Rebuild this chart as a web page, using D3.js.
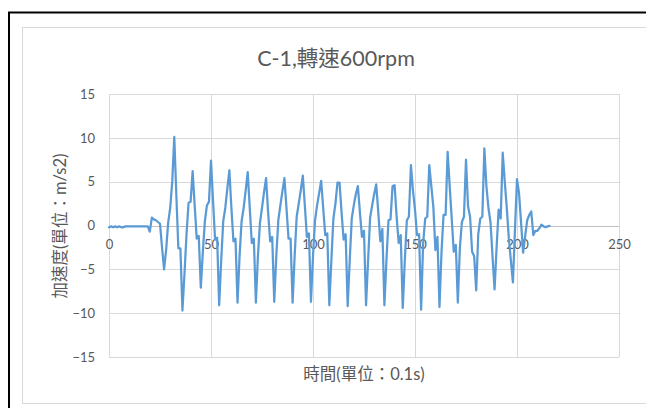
<!DOCTYPE html>
<html>
<head>
<meta charset="utf-8">
<script src="https://cdn.jsdelivr.net/npm/d3@7/dist/d3.min.js"></script>
<style>
  html, body { margin: 0; padding: 0; background: #fff; }
  svg { display: block; }
  text { font-family: Lato, "Noto Sans CJK TC", sans-serif; fill: #595959; }
</style>
</head>
<body>
<svg id="chart" width="646" height="408"></svg>
<script>
// ---- data ----
const chartTitle = "C-1,轉速600rpm";
const xAxisTitle = "時間(單位：0.1s)";
const yAxisTitle = "加速度(單位：m/s2)";
const xTicks = [0, 50, 100, 150, 200, 250];
const yTicks = [-15, -10, -5, 0, 5, 10, 15];
// acceleration samples, one per 0.1 s, index 0..216
const accel = [
  -0.2, -0.1, -0.2, -0.1, -0.2, -0.1, -0.2, -0.2, -0.1, -0.1,
  -0.1, -0.1, -0.1, -0.1, -0.1, -0.1, -0.1, -0.1, -0.1, -0.1,
  -0.7, 0.9, 0.7, 0.6, 0.4, 0.2, -2.5, -5.0, -2.8, 0.3,
  2.0, 5.0, 10.1, 3.5, -2.6, -2.6, -9.7, -5.5, -1.0, 2.6,
  2.7, 6.2, 2.3, -1.5, -1.2, -7.1, -3.0, 0.5, 2.3, 2.7,
  7.4, 2.8, -1.6, -1.4, -9.1, -4.0, 0.5, 2.0, 4.2, 6.3,
  2.0, -1.8, -1.5, -8.8, -3.5, 0.5, 2.0, 4.0, 6.1, 2.0,
  -2.0, -1.5, -8.8, -3.5, 0.3, 2.0, 3.8, 5.4, 1.5, -1.8,
  -1.3, -8.7, -3.5, 0.6, 2.3, 3.9, 5.4, 2.0, -1.5, -1.5,
  -8.8, -3.5, 1.0, 2.5, 4.0, 5.7, 2.3, -1.3, -0.9, -8.7,
  -3.5, 0.6, 2.3, 3.7, 5.1, 2.0, -1.1, -0.9, -9.1, -4.0,
  0.8, 2.5, 4.9, 4.9, 1.5, -1.6, -1.0, -9.2, -4.0, 0.8,
  2.3, 3.6, 4.5, 1.5, -1.3, -0.6, -9.1, -4.0, 0.9, 2.3,
  3.6, 4.7, 1.5, -1.8, -0.4, -9.1, -4.0, 0.6, 0.7, 4.5,
  4.6, 1.0, -2.0, -1.1, -9.4, -4.0, 0.6, 1.0, 6.9, 4.0,
  1.8, -1.1, -1.0, -9.6, -2.0, 0.8, 1.0, 6.9, 4.5, 2.1,
  -2.8, -1.3, -9.3, -3.0, 1.2, 1.2, 8.4, 4.5, 0.8, -3.0,
  -2.2, -8.8, -2.5, 0.4, 1.0, 7.5, 2.2, 1.0, -3.0, -3.5,
  -7.4, -1.0, 0.8, 1.0, 8.8, 4.5, 2.0, 0.4, -3.5, -7.3,
  -2.5, 1.8, 0.8, 8.3, 5.0, 2.0, -1.5, -4.0, -6.5, -0.5,
  5.3, 3.7, 0.3, -3.1, -1.2, 0.6, 1.2, 1.6, -1.1, -0.6,
  -0.6, -0.3, 0.1, -0.1, -0.2, -0.1, -0.05
];

// ---- drawing ----
const svg = d3.select("#chart");

// outer black frame and chart-area frame
svg.append("rect").attr("x", 9).attr("y", 12.5).attr("width", 700).attr("height", 500)
  .attr("fill", "none").attr("stroke", "#000").attr("stroke-width", 2);
svg.append("rect").attr("x", 22.5).attr("y", 27.5).attr("width", 700).attr("height", 376)
  .attr("fill", "#fff").attr("stroke", "#D9D9D9").attr("stroke-width", 1);

const x = d3.scaleLinear().domain([0, 250]).range([109, 619]);
const y = d3.scaleLinear().domain([-15, 15]).range([357, 94]);

// gridlines
const g = svg.append("g");
g.selectAll("line.h").data(yTicks).join("line")
  .attr("x1", x(0)).attr("x2", x(250))
  .attr("y1", d => Math.round(y(d)) + 0.5).attr("y2", d => Math.round(y(d)) + 0.5)
  .attr("stroke", d => d === 0 ? "#BFBFBF" : "#D9D9D9").attr("stroke-width", 1);
g.selectAll("line.v").data(xTicks).join("line")
  .attr("y1", y(15)).attr("y2", y(-15))
  .attr("x1", d => Math.round(x(d)) + 0.5).attr("x2", d => Math.round(x(d)) + 0.5)
  .attr("stroke", "#D9D9D9").attr("stroke-width", 1);

// y axis labels
const yAxis = d3.axisLeft(y).tickValues(yTicks).tickSize(0).tickPadding(14);
const ya = svg.append("g").attr("transform", `translate(${x(0)},0)`).call(yAxis);
ya.select(".domain").remove();
ya.selectAll("text").style("font-size", "13px").style("font-family", "Lato, sans-serif").attr("fill", "#595959");

// x axis labels (axis crosses at 0)
const xAxis = d3.axisBottom(x).tickValues(xTicks).tickSize(0).tickPadding(14);
const xa = svg.append("g").attr("transform", `translate(0,${y(0)})`).call(xAxis);
xa.select(".domain").remove();
xa.selectAll("text").style("font-size", "13px").style("font-family", "Lato, sans-serif").attr("fill", "#595959");

// line
const line = d3.line().x((d, i) => x(i)).y(d => y(d)).curve(d3.curveLinear);
svg.append("path").datum(accel).attr("d", line)
  .attr("fill", "none").attr("stroke", "#5B9BD5").attr("stroke-width", 2.25)
  .attr("stroke-linejoin", "round").attr("stroke-linecap", "round");

// titles
svg.append("text").attr("x", 336).attr("y", 66).attr("text-anchor", "middle")
  .style("font-size", "21.5px").text(chartTitle);
svg.append("text").attr("x", 364).attr("y", 380).attr("text-anchor", "middle")
  .style("font-size", "16.5px").text(xAxisTitle);
svg.append("text").attr("transform", `translate(66,226) rotate(-90)`).attr("text-anchor", "middle")
  .style("font-size", "16.5px").text(yAxisTitle);
</script>
</body>
</html>
